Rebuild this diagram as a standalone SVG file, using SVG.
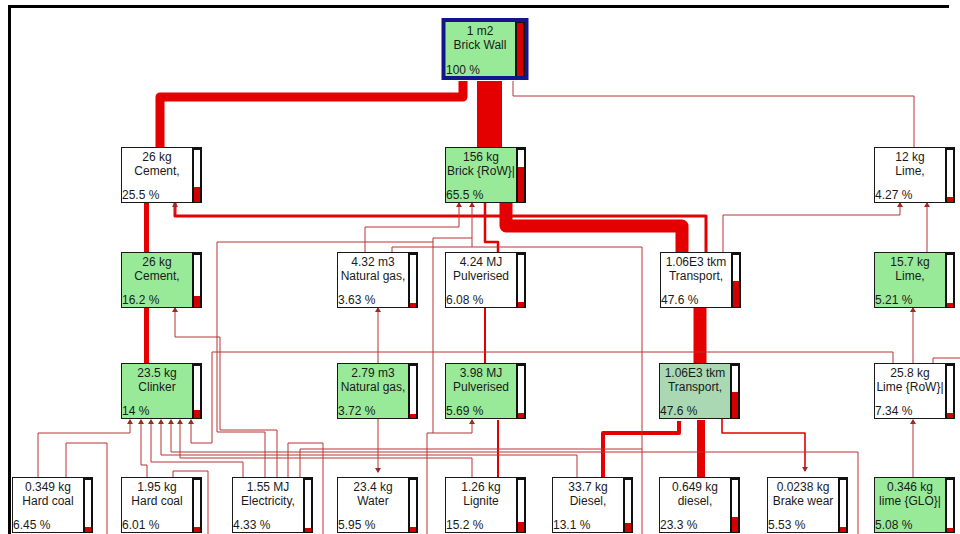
<svg xmlns="http://www.w3.org/2000/svg" width="960" height="534" viewBox="0 0 960 534">
<style>
.bg{fill:#ffffff}
.frame{stroke:#000;stroke-width:3;fill:none}
.box{stroke:#1a1a1a;stroke-width:1}
.w{fill:#ffffff}
.g{fill:#98ea98}
.g2{fill:#a9d8b2}
.barO{fill:#111}
.barI{fill:#ffffff}
.barR{fill:#d40000}
text{font-family:"Liberation Sans",Arial,sans-serif;font-size:12px;fill:#1a1a1a}
.c{text-anchor:middle}
.t{fill:none;stroke:#b83232;stroke-width:1}
.m{fill:none;stroke:#e40000;stroke-linejoin:round}
</style>
<defs>
<marker id="a" markerUnits="userSpaceOnUse" markerWidth="6" markerHeight="5" refX="3" refY="4" orient="auto-start-reverse" viewBox="0 0 6 5">
<path d="M0,5 L3,0 L6,5 Z" fill="#a02828" transform="rotate(0)"/>
</marker>
<marker id="au" markerUnits="userSpaceOnUse" markerWidth="6" markerHeight="5" refX="3" refY="1" viewBox="0 0 6 5" orient="0">
<path d="M0,5 L3,0 L6,5 Z" fill="#a02828"/>
</marker>
<marker id="ad" markerUnits="userSpaceOnUse" markerWidth="6" markerHeight="5" refX="3" refY="4" viewBox="0 0 6 5" orient="0">
<path d="M0,0 L3,5 L6,0 Z" fill="#a02828"/>
</marker>
</defs>
<rect class="bg" x="0" y="0" width="960" height="534"/>
<path class="frame" d="M9.5,534 V6.5 H949"/>

<g id="connectors">
<!-- thick flows -->
<path class="m" stroke-width="9" d="M160,147 V97 H463 V81"/>
<path class="m" stroke-width="25" stroke-linejoin="miter" d="M489.5,147 V81"/>
<path class="m" stroke-width="13" d="M682,252 V226 H506 V203"/>
<path class="m" stroke-width="3" d="M706,252 V216 H175 V203"/>
<path class="m" stroke-width="5" d="M146.5,252 V203"/>
<path class="m" stroke-width="5" d="M146.5,364 V308"/>
<path class="m" stroke-width="13" stroke-linejoin="miter" d="M700,364 V308"/>
<path class="m" stroke-width="8" stroke-linejoin="miter" d="M701,477 V420"/>
<path class="m" stroke-width="4" d="M603,477 V433 H679 V421"/>
<path class="m" stroke-width="2.5" d="M498,252 V242 H485 V203"/>
<path class="m" stroke-width="2" d="M485,364 V308"/>
<path class="m" stroke-width="2" d="M498,477 V420"/>
<path class="m" stroke-width="1.6" d="M722,419 V433 H805 V471" marker-end="url(#ad)"/>
<!-- thin flows -->
<path class="t" d="M914,147 V96 H513 V81"/>
<path class="t" d="M365,252 V227 H459 V203" marker-end="url(#au)"/>
<path class="t" d="M472,247 V203" marker-end="url(#au)"/>
<path class="t" d="M433,433 V238 H472"/>
<path class="t" d="M392,252 V247 H642 V534"/>
<path class="t" d="M265,477 V432 H217 V242 H433"/>
<path class="t" d="M277,477 V430 H220 V337 H175 V308" marker-end="url(#au)"/>
<path class="t" d="M378,363 V308" marker-end="url(#au)"/>
<path class="t" d="M378,419 V472" marker-end="url(#ad)"/>
<path class="t" d="M427,534 V433 H472 V420" marker-end="url(#au)"/>
<path class="t" d="M913,364 V308" marker-end="url(#au)"/>
<path class="t" stroke-width="1.5" d="M913,477 V420" marker-end="url(#au)"/>
<path class="t" d="M927,252 V203" marker-end="url(#au)"/>
<path class="t" d="M723,252 V215 H900 V203" marker-end="url(#au)"/>
<path class="t" d="M933,364 V358 H960"/>
<path class="t" d="M893,364 V352 H212 V443 H191 V420" marker-end="url(#au)"/>
<path class="t" d="M38,477 V433 H130 V420" marker-end="url(#au)"/>
<path class="t" d="M147,477 V465 H141 V420" marker-end="url(#au)"/>
<path class="t" d="M243,477 V462 H151 V420" marker-end="url(#au)"/>
<path class="t" d="M577,477 V455 H161 V420" marker-end="url(#au)"/>
<path class="t" d="M858,534 V452 H171 V420" marker-end="url(#au)"/>
<path class="t" d="M472,477 V458 H180 V420" marker-end="url(#au)"/>
<path class="t" d="M66,477 V443 H107 V534"/>
<path class="t" d="M173,477 V471 H208 V534"/>
<path class="t" d="M288,477 V443 H323 V534"/>
<path class="t" d="M300,477 V449 H642"/>
<path class="t" d="M175,213 V203" marker-end="url(#au)"/>
</g>

<g id="n0">
<rect x="443.5" y="20" width="83" height="58" class="g" stroke="#14148c" stroke-width="4"/>
<rect x="515" y="22" width="10" height="54" class="barO"/>
<rect x="517" y="23" width="6" height="53" class="barR"/>
<text class="c" x="480" y="35">1 m2</text>
<text class="c" x="480" y="49">Brick Wall</text>
<text x="446" y="74">100 %</text>
</g>

<g id="n1"><rect class="box w" x="121.5" y="147.5" width="80" height="55"/><rect class="barO" x="192" y="147" width="10" height="56"/><rect class="barI" x="194" y="150" width="6" height="52"/><rect class="barR" x="194" y="187" width="6" height="15"/><text class="c" x="157" y="161">26 kg</text><text class="c" x="157" y="175">Cement,</text><text x="122" y="199">25.5 %</text></g>

<g id="n2"><rect class="box g" x="445.5" y="147.5" width="80" height="55"/><rect class="barO" x="516" y="147" width="10" height="56"/><rect class="barI" x="518" y="150" width="6" height="52"/><rect class="barR" x="518" y="167" width="6" height="35"/><text class="c" x="481" y="161">156 kg</text><text class="c" x="481" y="175">Brick {RoW}|</text><text x="446" y="199">65.5 %</text></g>

<g id="n3"><rect class="box w" x="874.5" y="147.5" width="80" height="55"/><rect class="barO" x="945" y="147" width="10" height="56"/><rect class="barI" x="947" y="150" width="6" height="52"/><rect class="barR" x="947" y="197" width="6" height="5"/><text class="c" x="910" y="161">12 kg</text><text class="c" x="910" y="175">Lime,</text><text x="875" y="199">4.27 %</text></g>

<g id="n4"><rect class="box g" x="121.5" y="252.5" width="80" height="55"/><rect class="barO" x="192" y="252" width="10" height="56"/><rect class="barI" x="194" y="255" width="6" height="52"/><rect class="barR" x="194" y="296" width="6" height="11"/><text class="c" x="157" y="266">26 kg</text><text class="c" x="157" y="280">Cement,</text><text x="122" y="304">16.2 %</text></g>

<g id="n5"><rect class="box w" x="337.5" y="252.5" width="80" height="55"/><rect class="barO" x="408" y="252" width="10" height="56"/><rect class="barI" x="410" y="255" width="6" height="52"/><rect class="barR" x="410" y="303" width="6" height="4"/><text class="c" x="373" y="266">4.32 m3</text><text class="c" x="373" y="280">Natural gas,</text><text x="338" y="304">3.63 %</text></g>

<g id="n6"><rect class="box w" x="445.5" y="252.5" width="80" height="55"/><rect class="barO" x="516" y="252" width="10" height="56"/><rect class="barI" x="518" y="255" width="6" height="52"/><rect class="barR" x="518" y="302" width="6" height="5"/><text class="c" x="481" y="266">4.24 MJ</text><text class="c" x="481" y="280">Pulverised</text><text x="446" y="304">6.08 %</text></g>

<g id="n7"><rect class="box w" x="660.5" y="252.5" width="80" height="55"/><rect class="barO" x="731" y="252" width="10" height="56"/><rect class="barI" x="733" y="255" width="6" height="52"/><rect class="barR" x="733" y="281" width="6" height="26"/><text class="c" x="696" y="266">1.06E3 tkm</text><text class="c" x="696" y="280">Transport,</text><text x="661" y="304">47.6 %</text></g>

<g id="n8"><rect class="box g" x="874.5" y="252.5" width="80" height="55"/><rect class="barO" x="945" y="252" width="10" height="56"/><rect class="barI" x="947" y="255" width="6" height="52"/><rect class="barR" x="947" y="303" width="6" height="4"/><text class="c" x="910" y="266">15.7 kg</text><text class="c" x="910" y="280">Lime,</text><text x="875" y="304">5.21 %</text></g>

<g id="n9"><rect class="box g" x="121.5" y="363.5" width="80" height="55"/><rect class="barO" x="192" y="363" width="10" height="56"/><rect class="barI" x="194" y="366" width="6" height="52"/><rect class="barR" x="194" y="410" width="6" height="8"/><text class="c" x="157" y="377">23.5 kg</text><text class="c" x="157" y="391">Clinker</text><text x="122" y="415">14 %</text></g>

<g id="n10"><rect class="box g" x="337.5" y="363.5" width="80" height="55"/><rect class="barO" x="408" y="363" width="10" height="56"/><rect class="barI" x="410" y="366" width="6" height="52"/><rect class="barR" x="410" y="414" width="6" height="4"/><text class="c" x="373" y="377">2.79 m3</text><text class="c" x="373" y="391">Natural gas,</text><text x="338" y="415">3.72 %</text></g>

<g id="n11"><rect class="box g" x="445.5" y="363.5" width="80" height="55"/><rect class="barO" x="516" y="363" width="10" height="56"/><rect class="barI" x="518" y="366" width="6" height="52"/><rect class="barR" x="518" y="413" width="6" height="5"/><text class="c" x="481" y="377">3.98 MJ</text><text class="c" x="481" y="391">Pulverised</text><text x="446" y="415">5.69 %</text></g>

<g id="n12"><rect class="box g2" x="659.5" y="363.5" width="80" height="55"/><rect class="barO" x="730" y="363" width="10" height="56"/><rect class="barI" x="732" y="366" width="6" height="52"/><rect class="barR" x="732" y="392" width="6" height="26"/><text class="c" x="695" y="377">1.06E3 tkm</text><text class="c" x="695" y="391">Transport,</text><text x="660" y="415">47.6 %</text></g>

<g id="n13"><rect class="box w" x="874.5" y="363.5" width="80" height="55"/><rect class="barO" x="945" y="363" width="10" height="56"/><rect class="barI" x="947" y="366" width="6" height="52"/><rect class="barR" x="947" y="413" width="6" height="5"/><text class="c" x="910" y="377">25.8 kg</text><text class="c" x="910" y="391">Lime {RoW}|</text><text x="875" y="415">7.34 %</text></g>

<g id="n14"><rect class="box w" x="12.5" y="477.5" width="80" height="55"/><rect class="barO" x="83" y="477" width="10" height="56"/><rect class="barI" x="85" y="480" width="6" height="52"/><rect class="barR" x="85" y="527" width="6" height="5"/><text class="c" x="48" y="491">0.349 kg</text><text class="c" x="48" y="505">Hard coal</text><text x="13" y="529">6.45 %</text></g>

<g id="n15"><rect class="box w" x="121.5" y="477.5" width="80" height="55"/><rect class="barO" x="192" y="477" width="10" height="56"/><rect class="barI" x="194" y="480" width="6" height="52"/><rect class="barR" x="194" y="527" width="6" height="5"/><text class="c" x="157" y="491">1.95 kg</text><text class="c" x="157" y="505">Hard coal</text><text x="122" y="529">6.01 %</text></g>

<g id="n16"><rect class="box w" x="232.5" y="477.5" width="80" height="55"/><rect class="barO" x="303" y="477" width="10" height="56"/><rect class="barI" x="305" y="480" width="6" height="52"/><rect class="barR" x="305" y="528" width="6" height="4"/><text class="c" x="268" y="491">1.55 MJ</text><text class="c" x="268" y="505">Electricity,</text><text x="233" y="529">4.33 %</text></g>

<g id="n17"><rect class="box w" x="337.5" y="477.5" width="80" height="55"/><rect class="barO" x="408" y="477" width="10" height="56"/><rect class="barI" x="410" y="480" width="6" height="52"/><rect class="barR" x="410" y="527" width="6" height="5"/><text class="c" x="373" y="491">23.4 kg</text><text class="c" x="373" y="505">Water</text><text x="338" y="529">5.95 %</text></g>

<g id="n18"><rect class="box w" x="445.5" y="477.5" width="80" height="55"/><rect class="barO" x="516" y="477" width="10" height="56"/><rect class="barI" x="518" y="480" width="6" height="52"/><rect class="barR" x="518" y="522" width="6" height="10"/><text class="c" x="481" y="491">1.26 kg</text><text class="c" x="481" y="505">Lignite</text><text x="446" y="529">15.2 %</text></g>

<g id="n19"><rect class="box w" x="552.5" y="477.5" width="80" height="55"/><rect class="barO" x="623" y="477" width="10" height="56"/><rect class="barI" x="625" y="480" width="6" height="52"/><rect class="barR" x="625" y="523" width="6" height="9"/><text class="c" x="588" y="491">33.7 kg</text><text class="c" x="588" y="505">Diesel,</text><text x="553" y="529">13.1 %</text></g>

<g id="n20"><rect class="box w" x="659.5" y="477.5" width="80" height="55"/><rect class="barO" x="730" y="477" width="10" height="56"/><rect class="barI" x="732" y="480" width="6" height="52"/><rect class="barR" x="732" y="517" width="6" height="15"/><text class="c" x="695" y="491">0.649 kg</text><text class="c" x="695" y="505">diesel,</text><text x="660" y="529">23.3 %</text></g>

<g id="n21"><rect class="box w" x="767.5" y="477.5" width="80" height="55"/><rect class="barO" x="838" y="477" width="10" height="56"/><rect class="barI" x="840" y="480" width="6" height="52"/><rect class="barR" x="840" y="527" width="6" height="5"/><text class="c" x="803" y="491">0.0238 kg</text><text class="c" x="803" y="505">Brake wear</text><text x="768" y="529">5.53 %</text></g>

<g id="n22"><rect class="box g" x="874.5" y="477.5" width="80" height="55"/><rect class="barO" x="945" y="477" width="10" height="56"/><rect class="barI" x="947" y="480" width="6" height="52"/><rect class="barR" x="947" y="528" width="6" height="4"/><text class="c" x="910" y="491">0.346 kg</text><text class="c" x="910" y="505">lime {GLO}|</text><text x="875" y="529">5.08 %</text></g>
</svg>
